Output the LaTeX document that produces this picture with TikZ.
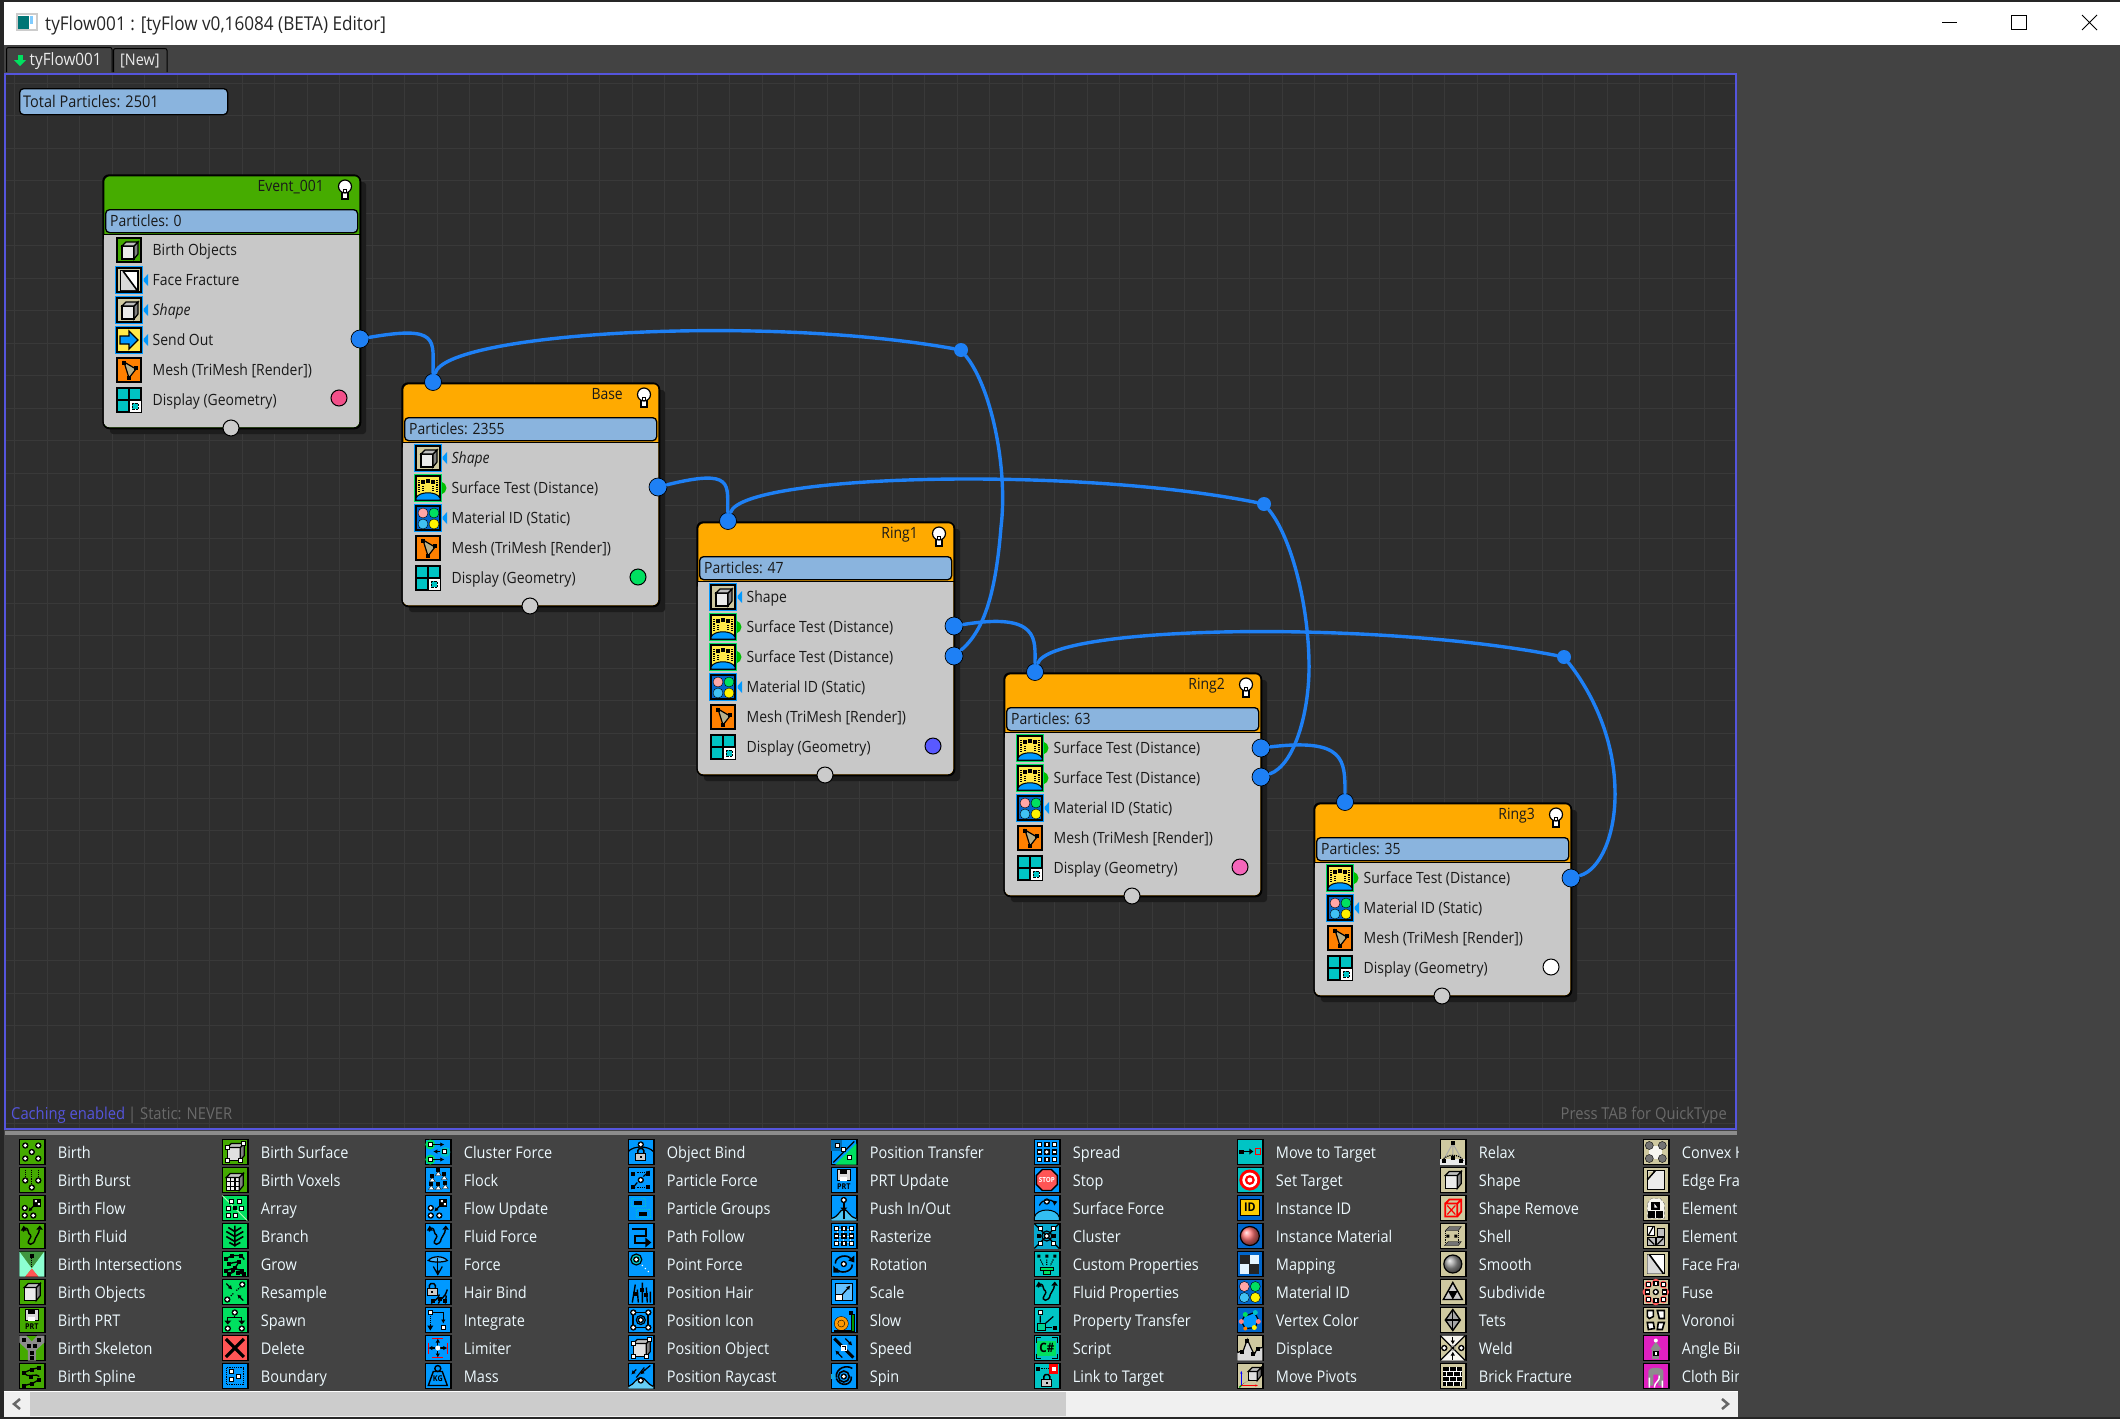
\documentclass[tikz,border=0pt]{standalone}
\usepackage{fontspec}
\setmainfont[FakeStretch=0.9]{Open Sans}
\usetikzlibrary{arrows.meta}
\definecolor{cG}{HTML}{44AA00}
\definecolor{cB}{HTML}{00E060}
\definecolor{cX}{HTML}{0099FF}
\definecolor{cD}{HTML}{0066CC}
\definecolor{cT}{HTML}{00C4C4}
\definecolor{cK}{HTML}{CFC9A0}
\definecolor{cM}{HTML}{E020C0}
\definecolor{cR}{HTML}{FF5555}
\definecolor{cO}{HTML}{FF8000}
\definecolor{cY}{HTML}{FFE94A}
\definecolor{cW}{HTML}{1E80F5}
\definecolor{panel}{HTML}{434343}
\definecolor{canvas}{HTML}{2E2E2E}
\definecolor{gridc}{HTML}{393939}
\definecolor{purp}{HTML}{5555DD}
\definecolor{barc}{HTML}{8AB4DE}
\definecolor{bodyc}{HTML}{C8C8C8}
\definecolor{shad}{HTML}{1C1C1C}
\definecolor{hdrg}{HTML}{46AC00}
\definecolor{hdro}{HTML}{FFAA00}
\definecolor{dimt}{HTML}{6A6A6A}
\tikzset{
 kl/.style={black,line width=1.2},
 kt/.style={black,line width=1.6},
 wl/.style={white,line width=1},
 itext/.style={inner sep=0,text=black,font=\fontsize{8}{8}\selectfont\bfseries},
 ntext/.style={inner sep=0,text=black!90,font=\fontsize{15.5}{18}\selectfont},
 ttext/.style={inner sep=0,text=white!92!black,font=\fontsize{17}{18}\selectfont},
 ptext/.style={inner sep=0,text=white!93!cyan,font=\fontsize{16.1}{18}\selectfont},
 box/.style={inner sep=0,draw=black,line width=1.3,rounded corners=6},
 pbar/.style={inner sep=0,draw=black,line width=1.3,fill=barc,rounded corners=4,anchor=north west},
 outsock/.style={circle,inner sep=0,minimum size=18,fill=cW,draw=black,line width=.7},
 insock/.style={circle,inner sep=0,minimum size=17,fill=cW,draw=black,line width=.7},
 botsock/.style={circle,inner sep=0,minimum size=16,fill=bodyc!95!white,draw=black,line width=1},
 waypt/.style={circle,inner sep=0,minimum size=14,fill=cW},
 wire/.style={cW,line width=3.4,line cap=round},
 dispdot/.style={circle,inner sep=0,minimum size=16,draw=black,line width=1}
}
\newcommand\Dw[2]{\fill[black](#1,#2)circle(3.2);\fill[white](#1,#2)circle(1.9);}
\newcommand\Sw[2]{\fill[black](#1-2.8,#2-2.8)rectangle(#1+2.8,#2+2.8);\fill[white](#1-1.3,#2-1.3)rectangle(#1+1.3,#2+1.3);}
\newcommand\Sk[2]{\fill[black](#1-2,#2-2)rectangle(#1+2,#2+2);}
\newcommand\Ar[4]{\draw[kl,-{Latex[length=4pt,width=4.5pt]}](#1,#2)--(#3,#4);}
\newcommand\Lock[2]{\begin{scope}[shift={(#1,#2)}]\draw[kl,line width=1.5](-3,0)--(-3,-3)--(-1.5,-5)--(1.5,-5)--(3,-3)--(3,0);\filldraw[fill=black!20,draw=black,line width=1.2](-5,0)rectangle(5,7);\fill(-1,2.5)rectangle(1,4.5);\end{scope}}
\newcommand\CubeAt[5]{\filldraw[fill=#5,draw=black,line width=1.2](#1,#2)rectangle(#3,#4);\filldraw[fill=black!50,draw=black,line width=1.2](#3,#4)--(#3+4,#4-5)--(#3+4,#2-4)--(#3,#2)--cycle;\filldraw[fill=black!25,draw=black,line width=1.2](#1,#2)--(#1+4,#2-4)--(#3+4,#2-4)--(#3,#2)--cycle;}
\def\Gbirth{\Dw{6}{6}\Dw{19}{6}\Dw{12.5}{12.5}\Dw{6}{19}\Dw{19}{19}}
\def\Gburst{\draw[kl,densely dotted](6,2)--(6,11)(12.5,2)--(12.5,16)(19,2)--(19,11);\Dw{6}{13}\Dw{19}{13}\Dw{12.5}{20}}
\def\Gflow{\Dw{5.5}{12.5}\Dw{5.5}{20}\Dw{14}{20}\fill[black](14,3)rectangle(22,11);\fill[white](15.5,4.5)rectangle(17.5,6.5)(18.5,7.5)rectangle(20.5,9.5);\Ar{15}{10}{9}{16}}
\def\Gfluid{\draw[kl,line width=1.4](4,8)..controls(4,3)and(9,4)..(9,8)..controls(9,12)and(14,10)..(10,16)..controls(6,22)and(15,23)..(16,15)..controls(17,12)and(20,10)..(20,6);\fill(1.5,7)--(4.5,2)--(7.5,7)--cycle;\fill(17,6)--(20.5,2)--(23.5,6)--cycle;}
\def\Ginter{\fill[green!45!black!75](0,0)--(25,0)--(12.5,17)--cycle;\fill[green!40!cyan!45!white](0,0)--(12.5,17)--(6,25)--(0,25)--cycle;\fill[green!40!cyan!45!white](25,0)--(12.5,17)--(19,25)--(25,25)--cycle;\fill[cR](12.5,17)--(6,25)--(19,25)--cycle;\draw[kl,densely dotted](12.5,6)--(12.5,15);\Sk{12.5}{4}}
\def\Gcube{\CubeAt{5}{8}{17}{21}{black!8}}
\def\Gprt{\filldraw[fill=black!15,draw=black,line width=1.2](6,2)rectangle(19,13);\fill(9,2)rectangle(16,6);\fill[white](9,9)rectangle(16,13);\node[itext] at (12.5,19){PRT};}
\def\Gskel{\fill[black!45](0,0)--(7,0)--(12.5,6)--(18,0)--(25,0)--(25,7)--(16.5,15)--(16.5,25)--(8.5,25)--(8.5,15)--(0,7)--cycle;\Sk{5}{4}\Sk{20}{4}\Sk{9.5}{10}\Sk{15.5}{10}\Sk{12.5}{17}\Sk{12.5}{22}}
\def\Gspline{\draw[kl,line width=1.3](5,9)--(12,6)--(20,4)(5,10)..controls(8,15)and(18,9)..(20,13)(5,22)--(13,20)--(20,16);\Sk{5}{9}\Sk{13}{6}\Sk{20}{4}\Sk{12}{13}\Sk{5}{22}\Sk{13}{20}\Sk{20}{16}}
\def\Gframe{\CubeAt{5}{8}{18}{21}{black!12}\Sw{5}{8}\Sw{18}{21}\Sw{21}{4}\Sw{5}{21}}
\def\Gvox{\CubeAt{4}{10}{17}{23}{black!5}\draw[kl](8.3,10)--(8.3,23)(12.7,10)--(12.7,23)(4,14.3)--(17,14.3)(4,18.7)--(17,18.7)(8,6)--(21,6);}
\def\Garray{\draw[white!70!green,line width=1](0,0)--(25,25);\Sw{9}{6}\Sw{17}{6}\Sw{6}{13}\Sw{19}{13}\Sk{12.5}{12}\Sw{6}{20}\Sw{13}{20}}
\def\Gbranch{\draw[kt](12.5,2)--(12.5,23)(12.5,8)--(6,4)(12.5,8)--(19,4)(12.5,13)--(4,8)(12.5,13)--(21,8)(12.5,18)--(4,13)(12.5,18)--(21,13)(12.5,22)--(7,19)(12.5,22)--(18,19);}
\def\Ggrow{\draw[kl,line width=1.4](4,7)--(10,4)--(19,4)--(22,8)(7,12)--(17,10)--(13,16)(3,19)--(11,17)--(20,19)(6,23)--(12,20)(16,21)--(22,23);\Sk{4}{7}\Sk{10}{4}\Sk{19}{4}\Sk{17}{10}\Sk{13}{16}\Sk{7}{12}\Sk{4}{19}\Sk{11}{18}\Sk{20}{19}\Sk{7}{22}\Sk{16}{21}\Sk{22}{22}}
\def\Gresample{\Dw{20}{5}\Dw{5}{20}\Ar{4}{4}{10}{10}\Ar{21}{21}{15}{15}\draw[kl,densely dotted](14,11)--(18,8)(11,14)--(8,17);}
\def\Gspawn{\Dw{12.5}{5}\draw[kl](12.5,8)--(12.5,10)(5.5,15)--(5.5,10)--(19.5,10)--(19.5,15);\fill(2,13)--(9,13)--(5.5,17)--cycle;\fill(16,13)--(23,13)--(19.5,17)--cycle;\Dw{5.5}{21}\Dw{19.5}{21}}
\def\Gx{\draw[black,line width=3.2](3.5,3.5)--(21.5,21.5)(21.5,3.5)--(3.5,21.5);}
\def\Gbound{\draw[kl,densely dotted](4,4)rectangle(21,21);\Sw{9}{8}\Sw{9}{16}\Sw{16}{13}}
\def\Gclusterf{\fill[cB](5,5)circle(5);\fill[cB](5,20)circle(5);\fill[cT](20,12.5)circle(5);\Sw{5}{5}\Sw{5}{20}\Sw{19}{12}\Ar{8}{5}{19}{5}\Ar{15}{12}{8}{12}\Ar{8}{20}{19}{20}}
\def\Gflock{\foreach\q/\w in {7/13,13/7,19/11,6/21,13/21,20/20}{\fill[white,draw=black](\q-3,\w+1)--(\q,\w-3)--(\q+3,\w+1)--cycle;\Sk{\q}{\w-5}}}
\def\Gforce{\draw[kl,fill=cX!70!white](3,9)..controls(7,4)and(18,4)..(22,9)..controls(18,11)and(7,11)..cycle;\Ar{12.5}{6}{12.5}{23}\draw[kl](8,15)--(12.5,23)--(17,15);}
\def\Ghair{\Lock{7}{9}\draw[kl,line width=1.4](6,24)..controls(8,20)and(12,22)..(14,15)(13,24)..controls(15,18)and(19,20)..(22,10)(20,24)--(21,16);\Sk{8}{21}\Sk{15}{19}\Sk{20}{21}}
\def\Gintegrate{\Sw{5}{5}\draw[kl](8,5)--(18,5)--(18,14);\Ar{18}{9}{18}{16}\draw[kl,densely dotted](5,8)--(5,19);\Sw{18}{20}\fill(2,18)--(8,18)--(5,23)--cycle;}
\def\Glimiter{\draw[red,line width=1.1](7,3)--(18,3)(7,22)--(18,22)(3,7)--(3,18)(22,7)--(22,18);\Ar{12.5}{10}{12.5}{3}\Ar{12.5}{15}{12.5}{22}\Ar{10}{12.5}{3}{12.5}\Ar{15}{12.5}{22}{12.5}\fill[white](12.5,12.5)circle(2.5);}
\def\Gmass{\draw[kl,line width=1.4](12.5,5)circle(3);\draw[kl,line width=1.4](8,8)--(17,8)--(22,22)--(3,22)--cycle;\node[itext] at (12.5,15.5){KG};}
\def\Gobind{\draw[kl,line width=1.2](0,12)..controls(5,6)and(20,6)..(25,12);\Dw{12.5}{5}\Lock{12.5}{14}}
\def\Gpforce{\Dw{12.5}{12.5}\foreach\q/\w in {5/6,20/6,5/19,20/19}{\Sk{\q}{\w}}\Ar{15}{9}{22}{3}\Ar{9}{15}{3}{22}\draw[kl,densely dotted](9,5)--(16,5)(9,20)--(16,20);}
\def\Gpgroup{\draw[cT,densely dotted,line width=1.2](3,3)rectangle(17,11)(8,14)rectangle(22,22);\draw[wl](6,7)--(14,7)(11,18)--(19,18);\Sk{8}{7}\Sk{12}{7}\Sk{13}{18}\Sk{17}{18}}
\def\Gpath{\draw[black,line width=2](4,5)--(18,5)--(18,12)--(7,12)--(7,19)--(18,19);\fill(17,14)--(23,19)--(17,24)--cycle;}
\def\Gpoint{\draw[kl,fill=cT](8,8)circle(5.5);\Dw{8}{8}\fill[white](14,14)circle(.8)(17,17)circle(.8)(20,20)circle(.8);}
\def\Gphair{\draw[kl,line width=1.4](4,23)--(7,5)(10,23)--(9,10)(14,23)--(14,3)(19,23)--(18,8)(22,23)--(22,12);\Sk{7}{14}\Sk{14}{10}\Sk{18}{15}}
\def\Gpicon{\draw[black,line width=1.8](5,5)rectangle(20,20);\Dw{5}{5}\Dw{20}{5}\Dw{5}{20}\Dw{20}{20}\Dw{12.5}{12.5}\draw[kl](12.5,12.5)circle(4.5);}
\def\Gpray{\fill[cyan!60!white](0,25)--(0,23)..controls(6,21)and(8,14)..(12.5,14)..controls(17,14)and(19,21)..(25,23)--(25,25)--cycle;\draw[kl](0,23)..controls(6,21)and(8,14)..(12.5,14)..controls(17,14)and(19,21)..(25,23);\Ar{8}{6}{3}{11}\Ar{17}{6}{12}{11}\draw[kl](16,7)--(22,2)(8,14)--(16,4);\Dw{12.5}{17}}
\def\Gpxfer{\fill[cB](25,4)--(25,25)--(4,25)--cycle;\fill[cX!70!black](0,0)rectangle(11,11);\draw[kl](2,23)--(23,2);\Sw{6}{6}\Sw{12}{10}\Sw{18}{18}}
\def\Gpush{\fill[cyan!70!white](0,25)--(0,23)..controls(8,21)and(8,14)..(12.5,14)..controls(17,14)and(17,21)..(25,23)--(25,25)--cycle;\draw[kl](0,23)..controls(8,21)and(8,14)..(12.5,14)..controls(17,14)and(17,21)..(25,23);\draw[kl,line width=1.6](12.5,7)--(12.5,23);\Dw{12.5}{4.5}\fill(9,12)--(16,12)--(12.5,16)--cycle;}
\def\Grast{\draw[white!70!cX,line width=1](6,6)rectangle(19,19)(12.5,6)--(12.5,19)(6,12.5)--(19,12.5);\foreach\q in {5,12.5,20}{\foreach\w in {5,12.5,20}{\Sw{\q}{\w}}}}
\def\Grot{\Dw{12.5}{12.5}\draw[kt](4,12)..controls(4,4)and(17,2)..(20,8)(21,13)..controls(21,21)and(8,23)..(5,17);\fill(17,9)--(23,4)--(23,11)--cycle;\fill(2,14)--(8,21)--(2,21)--cycle;}
\def\Gscale{\filldraw[fill=cX!60!white,draw=black,line width=1.2](4,4)rectangle(21,21);\filldraw[fill=white,draw=black,line width=1.2](4,15)rectangle(11,21);\Ar{11}{15}{19}{6}}
\def\Gsnail{\fill[orange!80!yellow,draw=black](10,16)circle(7);\draw[black](10,16)circle(3.5);\fill[green!60!black,draw=black](3,23)--(20,23)--(20,7)--(23,7)--(23,12)--(23,24)--(3,24)--cycle;\Sk{20}{5}}
\def\Gspeed{\draw[black,line width=3](3,3)--(22,22);\fill[white](9.5,9.5)rectangle(15.5,15.5);\Ar{14}{3}{21}{10}\Ar{11}{22}{4}{15}\Sk{12.5}{12.5}\fill[white](11,11)rectangle(14,14);}
\def\Gspin{\fill[cyan!70!cT](0,10)rectangle(4,15);\Dw{12.5}{13}\draw[kt](12.5,13)circle(5.5);\draw[kl,line width=1.6](5,14)..controls(4,4)and(16,1)..(21,5);\draw[kl,line width=1.6](20,13)..controls(21,22)and(9,24)..(5,15);}
\def\Gspread{\foreach\q in {5,12.5,20}{\foreach\w in {5,12.5,20}{\Sw{\q}{\w}}}\Dw{12.5}{12.5}}
\def\Gstop{\filldraw[fill=cR,draw=black,line width=1.4](8,2)--(17,2)--(23,8)--(23,17)--(17,23)--(8,23)--(2,17)--(2,8)--cycle;\node[itext,text=white,font=\fontsize{7}{7}\selectfont\bfseries] at (12.5,12.5){STOP};}
\def\Gsforce{\fill[cyan!80!white,draw=black,line width=1](0,25)--(0,22)..controls(2,12)and(23,12)..(25,22)--(25,25)--cycle;\Dw{12.5}{6}\draw[kl](5,10)..controls(8,3)and(17,3)..(20,7);\fill(18,5)--(23,6)--(20,10)--cycle;}
\def\Gcluster{\fill[cyan!70!cB](0,0)rectangle(25,25);\draw[kl](0,0)--(25,25)(25,0)--(0,25);\Dw{12.5}{12.5}\draw[kl](12.5,12.5)circle(5);\Sw{6}{5}\Sw{19}{5}\Sk{5}{12.5}\Sk{20}{12.5}\Sw{6}{20}\Sw{19}{20}}
\def\Gcustom{\fill(3,3)rectangle(6,6)(11,3)rectangle(14,6)(19,3)rectangle(22,6);\draw[kl,densely dotted](6,8)--(9,14)(12.5,8)--(12.5,14)(19,8)--(16,14);\filldraw[fill=cB,draw=black,line width=1.1](6,16)rectangle(19,19)(9,19)rectangle(16,23);}
\def\Gprop{\Sw{6}{5}\draw[kl](6,8)--(6,15)(11,16)--(19,9);\filldraw[fill=cB!50!cT,draw=black,line width=1.2](3,16)rectangle(11,23);\draw[kt](12,20)--(18,20);\Sk{21}{20}}
\def\Gscript{\fill[cB](3,5)rectangle(22,20);\draw[kl](2,7)--(2,2)--(7,2)(18,2)--(23,2)--(23,7)(2,18)--(2,23)--(7,23)(18,23)--(23,23)--(23,18);\node[itext,font=\fontsize{13}{13}\selectfont\bfseries] at (12.5,12.5){C\#};}
\def\Glink{\Sk{4}{5}\draw[kl,densely dotted](7,5)--(16,5);\fill[red](15,0)rectangle(24,10);\fill[white](17.5,3)rectangle(21.5,7);\Lock{12.5}{16}}
\def\Gmove{\fill(2,10)rectangle(7,14);\draw[kl](7,12)--(13,12);\fill(12,9)--(16,12)--(12,15)--cycle;\draw[red,line width=1.6](18,9)rectangle(23,15);}
\def\Gtarget{\fill[red](12.5,12.5)circle(10.5);\fill[white](12.5,12.5)circle(7.5);\fill[red](12.5,12.5)circle(5);\fill[white](12.5,12.5)circle(2.5);}
\def\Gid{\filldraw[fill=orange!40!yellow,draw=black,line width=1.6](3,4)rectangle(22,20);\node[itext,font=\fontsize{12}{12}\selectfont\bfseries] at (12.5,12){ID};}
\def\Gball{\shade[ball color=red!55!white](12.5,12.5)circle(9.5);\draw[kl](12.5,12.5)circle(9.5);}
\def\Gmap{\fill[black!85](3,3)rectangle(22,22);\fill[white!90!cX](12.5,3)rectangle(22,12);\fill[white!90!cX](3,12.5)rectangle(12,22);}
\def\Gmat{\filldraw[fill=red!35!white,draw=black](7,7)circle(5);\filldraw[fill=cB,draw=black](18,7)circle(5);\filldraw[fill=cyan!75!white,draw=black](7,18)circle(5);\filldraw[fill=yellow,draw=black](18,18)circle(5);}
\def\Gvert{\filldraw[fill=cX,draw=black,line width=1.2](7,9)--(17,5)--(21,12)--(18,20)--(8,21)--(4,14)--cycle;\fill[cB](8,7)circle(2.5);\fill[cT](18,5)circle(2.5);\fill[red!50!white](4,14)circle(2.5);\fill[red!50!white](21,14)circle(2.5);\fill[yellow](17,20)circle(2.5);\fill[cO](8,21)circle(2);}
\def\Gdispl{\fill[black!15](0,25)--(0,17)--(6,15)--(10,4)--(14,13)--(17,19)--(20,13)--(25,12)--(25,25)--cycle;\draw[kl](0,17)--(6,15)--(10,4)--(14,13)--(17,19)--(20,13)--(25,12);\Sk{10}{5}\Sk{5}{16}\Sk{16}{18}\Sk{21}{13}}
\def\Gpivot{\CubeAt{11}{8}{20}{17}{black!12}\draw[blue,line width=1.2,-{Latex[length=3pt]}](4,22)--(4,7);\draw[red,line width=1.2,-{Latex[length=3pt]}](4,22)--(21,22);\draw[green!60!black,line width=1.2](4,22)--(2,24);\draw[black,densely dotted](4,22)--(12,16);}
\def\Grelax{\fill[black!8](0,25)rectangle(25,19);\draw[black!35,line width=1](12.5,4)--(4,19)(12.5,4)--(21,19)(12.5,4)--(12.5,19);\draw[kl,densely dotted](2,21)..controls(6,14)and(19,14)..(23,21);\Sk{12.5}{3}\Sk{4}{21}\Sk{21}{21}\Sk{12.5}{18}}
\def\Gsremove{\draw[red,line width=1.8](5,8)rectangle(17,21)(5,8)--(9,4)--(21,4)--(21,16)--(17,21)(17,8)--(21,4)(5,8)--(17,8);\draw[red,line width=1.2](7,10)--(15,19)(15,10)--(7,19);}
\def\Gshell{\filldraw[fill=black!55,draw=black](5,7)--(9,3)--(21,3)--(18,7)--cycle;\filldraw[fill=black!55,draw=black](4,22)--(8,18)--(21,18)--(18,22)--cycle;\draw[kl,densely dotted](5,7)--(5,19)(18,7)--(18,19);\fill(6,11)rectangle(9,14)(14,11)rectangle(17,14);}
\def\Gsmooth{\shade[ball color=black!40](12.5,12.5)circle(9);\draw[kl](12.5,12.5)circle(9);}
\def\Gsub{\filldraw[fill=black!20,draw=black,line width=1.4](12.5,3)--(22,20)--(3,20)--cycle;\fill(7.7,11.5)--(17.3,11.5)--(12.5,20)--cycle;}
\def\Gtets{\filldraw[fill=black!35,draw=black,line width=1.4](12.5,2)--(20,12.5)--(12.5,23)--(5,12.5)--cycle;\draw[kl](12.5,2)--(12.5,23)(5,12.5)--(20,12.5);}
\def\Gweld{\fill[white!85!cK](0,0)--(12.5,12.5)--(25,0)--cycle;\fill[white!85!cK](0,25)--(12.5,12.5)--(25,25)--cycle;\draw[kl](0,0)--(25,25)(25,0)--(0,25);\Ar{12.5}{1}{12.5}{9}\Ar{12.5}{24}{12.5}{16}\draw[black!50](12.5,12.5)circle(2.5);\Dw{4}{12.5}\Dw{21}{12.5}}
\def\Gbrick{\fill(3,3)rectangle(22,22);\draw[wl](3,7.5)--(22,7.5)(3,12.5)--(22,12.5)(3,17.5)--(22,17.5)(9,3)--(9,7.5)(16,3)--(16,7.5)(6,7.5)--(6,12.5)(13,7.5)--(13,12.5)(20,7.5)--(20,12.5)(9,12.5)--(9,17.5)(16,12.5)--(16,17.5)(6,17.5)--(6,22)(13,17.5)--(13,22)(20,17.5)--(20,22);}
\def\Gconvex{\fill[white!85!cK](6,6)--(19,6)--(19,19)--(6,19)--cycle;\foreach\q/\w in {6/6,19/6,6/19,19/19}{\filldraw[fill=black!55,draw=black](\q,\w)circle(4);}}
\def\Gedge{\filldraw[fill=black!8,draw=black,line width=1.2](4,3)rectangle(21,22);\draw[black,line width=1.8](4,12)--(12,3);\fill[cK](5,4)--(10,4)--(5,10)--cycle;}
\def\Gelema{\draw[black!60,densely dashed,fill=white!85!cK](4,8)--(8,3)--(17,3)--(21,8)--(21,23)--(4,23)--cycle;\fill(8,6)rectangle(17,14);\fill(5,15)rectangle(12,22);\fill(13,15)rectangle(20,22);\fill[white](11,8)--(14,12)--(11,12)--cycle;}
\def\Gelemb{\filldraw[fill=white,draw=black,line width=1.4](4,3)rectangle(11,12);\draw[kl](5,12)--(10,3);\filldraw[fill=black!25,draw=black,line width=1.2](14,5)rectangle(21,13)(4,14)rectangle(12,22)(13,14)rectangle(21,22);\draw[kl](5,15)--(11,21)(20,15)--(14,21);}
\def\Gface{\filldraw[fill=white,draw=black,line width=1.2](4,3)rectangle(21,22);\fill[black!15](4,3)--(6,3)--(19,22)--(4,22)--cycle;\draw[black,line width=1.6](6,3)--(20,22);}
\def\Gfuse{\foreach\q/\w in {5/5,12.5/3,20/5,3/12.5,22/12.5,5/20,12.5/22,20/20}{\fill[cR](\q,\w)circle(3.8);}\foreach\q/\w in {5/5,12.5/4,20/5,4/12.5,21/12.5,5/20,12.5/21,20/20}{\Sw{\q}{\w}}\Dw{12.5}{12.5}}
\def\Gvor{\draw[kt,fill=white](4,3)--(10,3)--(10,9)--(6,11)--(4,9)--cycle(14,3)--(21,3)--(21,11)--(16,11)--cycle(4,15)--(10,15)--(11,21)--(5,22)--cycle(15,15)--(21,15)--(19,22)--(14,22)--cycle;}
\def\Gangle{\fill[black!45](12.5,6)--(18,14)--(7,14)--cycle;\fill[black!45](9,13)rectangle(16,23);\Sw{12.5}{18}\fill[white](12.5,5)circle(2);}
\def\Gcloth{\fill[black!45](5,22)--(5,8)..controls(5,3)and(20,3)..(20,8)--(20,22)--(15,22)--(15,11)--(10,11)--(10,22)--cycle;\draw[white,line width=1.4](6,24)--(6,14)(11,24)..controls(11,18)and(17,18)..(16,12)(19,24)--(19,17);}
\def\Gmesh{\fill[black!12!cK](7,4)--(19,11)--(12,20)--cycle;\draw[kl](7,4)--(19,11)--(12,20)--cycle;\Sk{7}{5}\Sk{19}{10}\Sk{12}{20}}
\def\Gdisplay{\draw[kt](12,0)--(12,24)(0,12)--(24,12);\fill[white](13,13)rectangle(24,24);\fill[cT](15,15)rectangle(21,21);\draw[black,densely dotted](15,15)rectangle(21,21);}
\def\Gsendout{\fill[cX,draw=black,line width=1.2](3,8)--(12,8)--(12,3)--(21,12)--(12,21)--(12,16)--(3,16)--cycle;}
\def\Gsurf{\fill[cX,draw=black,line width=1](0,24)--(0,22)..controls(3,15)and(21,15)..(24,22)--(24,24)--cycle;\draw[kl,densely dotted](3,4)--(3,16)(21,4)--(21,16);\Sk{7}{6}\Sk{12}{4.5}\Sk{17}{6}\draw[kl,densely dotted](7,10)--(7,15)(17,10)--(17,15);}
\newcommand\picon[4]{\begin{scope}[shift={(#1,#2)}]\filldraw[fill=#3,draw=black,line width=1.5](0,0)rectangle(25.5,25);\csname G#4\endcsname\end{scope}}
\newcommand\rowi[6]{\pgfmathsetmacro\rcy{75+30*#1}%
 \begin{scope}[shift={(14,\rcy-12)}]
  \ifx#2n\else\draw[#2,line width=2](-1.4,-1.4)rectangle(25.4,25.4);\fi
  \filldraw[fill=#3,draw=black,line width=1.2](0,0)rectangle(24,24);\csname G#4\endcsname
 \end{scope}
 \ifx#5b\fill[cX](45,\rcy-6)--(40.5,\rcy-1)--(40.5,\rcy+1)--(45,\rcy+6)--cycle;\fi
 \ifx#5g\fill[green!75!black](40,\rcy-6)--(43,\rcy-4)--(44.5,\rcy)--(43,\rcy+4)--(40,\rcy+6)--cycle;\fi
 \node[ntext,anchor=base west] at (49.5,\rcy+5.2){#6};}
\newcommand\flowblock[8]{\pgfmathsetmacro\bh{73+30*#4}%
 \begin{scope}[shift={(#2,#3)}]
  \fill[shad,rounded corners=3](7,7)rectangle(263,\bh+6);
  \node[box,fill=#7,minimum width=257,minimum height=\bh,anchor=north west](#1) at (0,0){};
  \fill[bodyc](0.7,59)rectangle(256.3,\bh-10);
  \fill[bodyc,rounded corners=6](0.7,59)rectangle(256.3,\bh-.7);
  \draw[black,line width=1.3,rounded corners=6](0,0)rectangle(257,\bh);
  \draw[black,line width=1.3](0,59.5)--(257,59.5);
  \node[pbar,minimum width=252,minimum height=23](#1bar) at (2,34){};
  \node[ntext,anchor=base west] at (7,51.5){Particles: #6};
  \node[ntext,anchor=base east] at (221,16.5){#5};
  \filldraw[fill=white,draw=black,line width=1.2](239,16)rectangle(245,24);
  \filldraw[fill=white,draw=black,line width=1.2](242,11.5)circle(6.5);
  \draw[black,line width=.8](240.5,14)rectangle(243.5,17);
  #8
  \node[botsock](#1bot) at (128,\bh){};
 \end{scope}}
\begin{document}
\begin{tikzpicture}[x=1pt,y=-1pt,inner sep=0]
\useasboundingbox (0,0) rectangle (2120,1419);
\fill[black!85] (0,0) rectangle (2120,1419);
\fill[panel] (4,45) rectangle (2120,1417);
\fill[white] (4,2) rectangle (2120,45);
\fill[black!20] (16,13) rectangle (38,31);
\fill[white] (18,15) rectangle (36,29);
\fill[cT!60!black] (18,16) rectangle (29,29);
\fill[cX!50!white] (30,16) rectangle (33,24);
\node[inner sep=0,anchor=base west,text=black!85,font=\fontsize{19.05}{22}\selectfont] (wintitle) at (45,30.5) {tyFlow001 : [tyFlow v0,16084 (BETA) Editor]};
\draw[black,line width=1] (1942,22.5)--(1957,22.5);
\draw[black,line width=1] (2011.5,15.5) rectangle (2026,29.5);
\draw[black,line width=1] (2082,15)--(2097,30) (2097,15)--(2082,30);
\draw[black,line width=1,fill=panel,rounded corners=2] (6.5,72)--(6.5,47.5)--(112,47.5)--(112,72);
\draw[black,line width=1,fill=panel,rounded corners=2] (113.5,72)--(113.5,48.5)--(167,48.5)--(167,72);
\fill[cB] (17.5,55)rectangle(22.5,60);
\fill[cB] (14,60)--(26,60)--(20,66)--cycle;
\node[ttext,anchor=base west] (tabone) at (29.5,65.5) {tyFlow001};
\node[ttext,anchor=base west,font=\fontsize{16}{18}\selectfont] (tabtwo) at (120,65.5) {[New]};
\fill[canvas] (5,74) rectangle (1736,1129);
\begin{scope}
\clip (5,74) rectangle (1736,1129);
\foreach \i in {0,...,53}{\draw[gridc,line width=1] ({14.8+32.5*\i},74)--({14.8+32.5*\i},1129);}
\foreach \i in {2,...,34}{\draw[gridc,line width=1] (5,{18+32.5*\i})--(1736,{18+32.5*\i});}
\end{scope}
\draw[purp,line width=2.5] (5,74) rectangle (1736,1129);
\fill[black!45] (5,1131) rectangle (1737,1135);
\node[pbar,minimum width=208,minimum height=26](totalbar) at (19,88){};
\node[ntext,anchor=base west,font=\fontsize{16.1}{18}\selectfont] (totaltext) at (23,107) {Total Particles: 2501};
\node[inner sep=0,anchor=base west,text=purp,font=\fontsize{16.4}{18}\selectfont] (caching) at (11,1119) {Caching enabled};
\node[inner sep=0,anchor=base west,text=dimt,font=\fontsize{16.4}{18}\selectfont] (staticnote) at (128,1119) {| Static: NEVER};
\node[inner sep=0,anchor=base east,text=dimt,font=\fontsize{16.4}{18}\selectfont] (tabnote) at (1727,1119) {Press TAB for QuickType};
\flowblock{evt}{103}{175}{6}{Event\_001}{0}{hdrg}{%
 \rowi{0}{n}{cG}{cube}{n}{Birth Objects}
 \rowi{1}{cX}{cK}{face}{b}{Face Fracture}
 \rowi{2}{cX}{cK}{cube}{b}{\itshape Shape}
 \rowi{3}{cX}{cY}{sendout}{b}{Send Out}
 \rowi{4}{n}{cO}{mesh}{n}{Mesh (TriMesh [Render])}
 \rowi{5}{n}{cT}{display}{n}{Display (Geometry)}
 \node[dispdot,fill=magenta!65!red!70!white](evtdot) at (236,223){};}
\flowblock{base}{402}{383}{5}{Base}{2355}{hdro}{%
 \rowi{0}{cX}{cK}{cube}{b}{\itshape Shape}
 \rowi{1}{cB}{cY}{surf}{g}{Surface Test (Distance)}
 \rowi{2}{cX}{cD}{mat}{b}{Material ID (Static)}
 \rowi{3}{n}{cO}{mesh}{n}{Mesh (TriMesh [Render])}
 \rowi{4}{n}{cT}{display}{n}{Display (Geometry)}
 \node[dispdot,fill=cB](basedot) at (236,194){};}
\flowblock{ringa}{697}{522}{6}{Ring1}{47}{hdro}{%
 \rowi{0}{cX}{cK}{cube}{b}{Shape}
 \rowi{1}{cB}{cY}{surf}{g}{Surface Test (Distance)}
 \rowi{2}{cB}{cY}{surf}{g}{Surface Test (Distance)}
 \rowi{3}{cX}{cD}{mat}{b}{Material ID (Static)}
 \rowi{4}{n}{cO}{mesh}{n}{Mesh (TriMesh [Render])}
 \rowi{5}{n}{cT}{display}{n}{Display (Geometry)}
 \node[dispdot,fill=blue!65!white](ringadot) at (236,224){};}
\flowblock{ringb}{1004}{673}{5}{Ring2}{63}{hdro}{%
 \rowi{0}{cB}{cY}{surf}{g}{Surface Test (Distance)}
 \rowi{1}{cB}{cY}{surf}{g}{Surface Test (Distance)}
 \rowi{2}{cX}{cD}{mat}{b}{Material ID (Static)}
 \rowi{3}{n}{cO}{mesh}{n}{Mesh (TriMesh [Render])}
 \rowi{4}{n}{cT}{display}{n}{Display (Geometry)}
 \node[dispdot,fill=magenta!60!white](ringbdot) at (236,194){};}
\flowblock{ringc}{1314}{803}{4}{Ring3}{35}{hdro}{%
 \rowi{0}{cB}{cY}{surf}{g}{Surface Test (Distance)}
 \rowi{1}{cX}{cD}{mat}{b}{Material ID (Static)}
 \rowi{2}{n}{cO}{mesh}{n}{Mesh (TriMesh [Render])}
 \rowi{3}{n}{cT}{display}{n}{Display (Geometry)}
 \node[dispdot,fill=white](ringcdot) at (237,164){};}
\node[outsock] (evtout) at (360,339) {};
\node[insock] (basein) at (433,382) {};
\node[outsock] (baseout) at (658,487) {};
\node[insock] (ringain) at (728,521) {};
\node[outsock] (ringaouta) at (954,626) {};
\node[outsock] (ringaoutb) at (954,656) {};
\node[insock] (ringbin) at (1035,672) {};
\node[outsock] (ringbouta) at (1261,748) {};
\node[outsock] (ringboutb) at (1261,777) {};
\node[insock] (ringcin) at (1345,802) {};
\node[outsock] (ringcout) at (1571,878) {};
\node[waypt] (wpa) at (961,350) {};
\node[waypt] (wpb) at (1264,504) {};
\node[waypt] (wpc) at (1564,657) {};
\draw[wire] (evtout) .. controls (440,325) and (433,340) .. (basein);
\draw[wire] (basein) .. controls (445,333) and (760,314) .. (wpa);
\draw[wire] (wpa) .. controls (992,388) and (1008,470) .. (1001,527) .. controls (996,590) and (985,630) .. (ringaoutb);
\draw[wire] (baseout) .. controls (735,468) and (727,485) .. (ringain);
\draw[wire] (ringain) .. controls (742,474) and (1075,466) .. (wpb);
\draw[wire] (wpb) .. controls (1290,535) and (1308,600) .. (1309,662) .. controls (1310,710) and (1295,765) .. (ringboutb);
\draw[wire] (ringaouta) .. controls (1040,612) and (1035,640) .. (ringbin);
\draw[wire] (ringbin) .. controls (1050,625) and (1375,620) .. (wpc);
\draw[wire] (wpc) .. controls (1590,690) and (1614,735) .. (1615,790) .. controls (1616,835) and (1600,870) .. (ringcout);
\draw[wire] (ringbouta) .. controls (1345,738) and (1345,760) .. (ringcin);
\newcommand\palcol[2]{\pgfmathsetmacro\cx{19.3+203*#1}%
 \foreach \c/\g/\t [count=\r from 0] in {#2}{%
  \pgfmathsetmacro\ry{1139.5+28*\r}%
  \picon{\cx}{\ry}{\c}{\g}
  \node[ptext,anchor=base west] (pal#1x\r) at (\cx+38.4,\ry+19) {\t};}}
\begin{scope}
\clip (4,1136) rectangle (1738,1391);
\palcol{0}{cG/birth/Birth,cG/burst/Birth Burst,cG/flow/Birth Flow,cG/fluid/Birth Fluid,cG/inter/Birth Intersections,cG/cube/Birth Objects,cG/prt/Birth PRT,cG/skel/Birth Skeleton,cG/spline/Birth Spline}
\palcol{1}{cG/frame/Birth Surface,cG/vox/Birth Voxels,cB/array/Array,cB/branch/Branch,cB/grow/Grow,cB/resample/Resample,cB/spawn/Spawn,cR/x/Delete,cX/bound/Boundary}
\palcol{2}{cX/clusterf/Cluster Force,cX/flock/Flock,cX/flow/Flow Update,cX/fluid/Fluid Force,cX/force/Force,cX/hair/Hair Bind,cX/integrate/Integrate,cX/limiter/Limiter,cX/mass/Mass}
\palcol{3}{cX/obind/Object Bind,cX/pforce/Particle Force,cX/pgroup/Particle Groups,cX/path/Path Follow,cX/point/Point Force,cX/phair/Position Hair,cX/picon/Position Icon,cX/frame/Position Object,cX/pray/Position Raycast}
\palcol{4}{cX/pxfer/Position Transfer,cX/prt/PRT Update,cX/push/{Push In/Out},cX/rast/Rasterize,cX/rot/Rotation,cX/scale/Scale,cX/snail/Slow,cX/speed/Speed,cX/spin/Spin}
\palcol{5}{cX/spread/Spread,cX/stop/Stop,cX/sforce/Surface Force,cB/cluster/Cluster,cT/custom/Custom Properties,cT/fluid/Fluid Properties,cT/prop/Property Transfer,cT/script/Script,cT/link/Link to Target}
\palcol{6}{cT/move/Move to Target,cT/target/Set Target,cD/id/Instance ID,cD/ball/Instance Material,cD/map/Mapping,cD/mat/Material ID,cD/vert/Vertex Color,cK/displ/Displace,cK/pivot/Move Pivots}
\palcol{7}{cK/relax/Relax,cK/cube/Shape,cK/sremove/Shape Remove,cK/shell/Shell,cK/smooth/Smooth,cK/sub/Subdivide,cK/tets/Tets,cK/weld/Weld,cK/brick/Brick Fracture}
\palcol{8}{cK/convex/Convex H,cK/edge/Edge Frac,cK/elema/Element,cK/elemb/Element,cK/face/Face Frac,cK/fuse/Fuse,cK/vor/Voronoi,cM/angle/Angle Bin,cM/cloth/Cloth Bin}
\end{scope}
\fill[black!6] (4,1391) rectangle (1738,1417);
\fill[black!20] (30,1392) rectangle (1066,1416);
\draw[white,line width=1] (4,1391)--(1738,1391);
\draw[black!60,line width=2.5] (20,1399)--(14,1404)--(20,1409);
\draw[black!60,line width=2.5] (1722,1399)--(1728,1404)--(1722,1409);
\end{tikzpicture}
\end{document}
